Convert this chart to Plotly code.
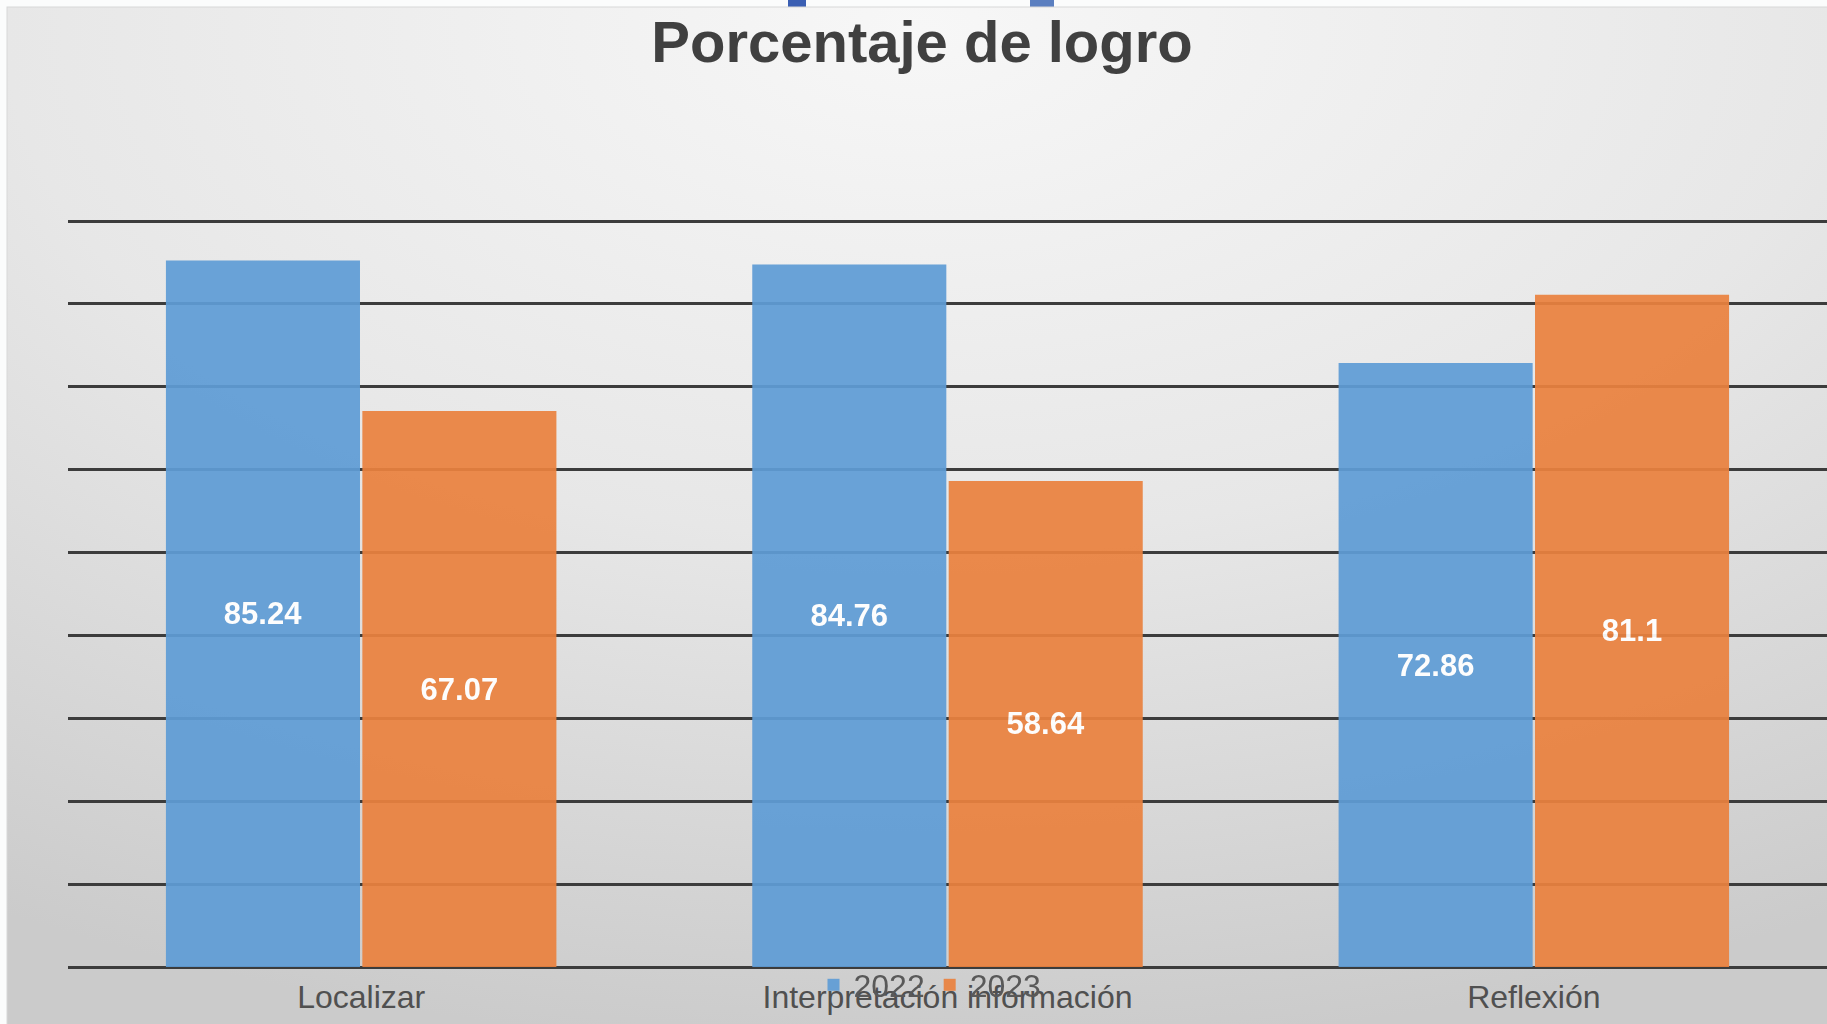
import base64
import plotly.graph_objects as go

categories = ["Localizar", "Interpretación información", "Reflexión"]
series_names = ["2022", "2023"]
values_2022 = [85.24, 84.76, 72.86]
values_2023 = [67.07, 58.64, 81.1]
labels_2022 = ["85.24", "84.76", "72.86"]
labels_2023 = ["67.07", "58.64", "81.1"]
grid_values = [0, 10, 20, 30, 40, 50, 60, 70, 80, 90]
title_text = "Porcentaje de logro"

W, H = 1827, 1024
blue = "#5f9cd5"
orange = "#ea823f"

# pixel geometry of the value axis
y_base_px = 967
px_per_unit = (967 - 221) / 90.0
y_max = 92.0
y_top_px = y_base_px - y_max * px_per_unit

svg = f"""<svg xmlns='http://www.w3.org/2000/svg' width='{W}' height='{H}' viewBox='0 0 {W} {H}' preserveAspectRatio='none'>
<defs>
<radialGradient id='g' gradientUnits='objectBoundingBox' cx='0.5' cy='0.02' r='1.0'>
<stop offset='0' stop-color='#f7f7f7'/>
<stop offset='0.5' stop-color='#e7e7e7'/>
<stop offset='1' stop-color='#cbcbcb'/>
</radialGradient>
</defs>
<rect x='0' y='0' width='{W}' height='{H}' fill='#fbfcfc'/>
<rect x='788' y='0' width='18' height='8' fill='#3b5fb3'/>
<rect x='1030' y='0' width='24' height='8' fill='#5b7fc0'/>
<rect x='7' y='7' width='{W}' height='{H}' fill='url(#g)' stroke='#d8d8d8' stroke-width='1'/>
</svg>"""
src = "data:image/svg+xml;base64," + base64.b64encode(svg.encode()).decode()

label_font = dict(family="Liberation Sans", size=31, color="white", weight="bold")

fig = go.Figure()
fig.add_trace(go.Bar(
    x=categories, y=values_2022, name=series_names[0],
    marker=dict(color=blue, line=dict(width=0)), opacity=0.93,
    text=labels_2022, textposition="inside", insidetextanchor="middle",
    textfont=label_font, textangle=0,
))
fig.add_trace(go.Bar(
    x=categories, y=values_2023, name=series_names[1],
    marker=dict(color=orange, line=dict(width=0)), opacity=0.93,
    text=labels_2023, textposition="inside", insidetextanchor="middle",
    textfont=label_font, textangle=0,
))

fig.update_layout(
    width=W, height=H,
    margin=dict(l=0, r=0, t=0, b=0),
    paper_bgcolor="white",
    plot_bgcolor="rgba(0,0,0,0)",
    images=[dict(source=src, xref="paper", yref="paper", x=0, y=1,
                 sizex=1, sizey=1, sizing="stretch", layer="below",
                 xanchor="left", yanchor="top")],
    title=dict(text=title_text, x=922 / W, xanchor="center",
               y=1 - 42 / H, yanchor="middle",
               font=dict(family="Liberation Sans", size=58, color="#404040", weight="bold")),
    barmode="group", bargap=0.33, bargroupgap=0.012,
    showlegend=True,
    legend=dict(orientation="h", x=930 / W, xanchor="center",
                y=(H - 985) / H, yanchor="middle",
                bgcolor="rgba(0,0,0,0)",
                font=dict(family="Liberation Sans", size=32, color="#595959"),
                traceorder="normal"),
    xaxis=dict(domain=[68 / W, 1.0], showgrid=False, showline=False,
               ticks="", tickfont=dict(family="Liberation Sans", size=32, color="#505050"),
               ticklabelstandoff=8),
    yaxis=dict(domain=[(H - y_base_px) / H, (H - y_top_px) / H], range=[0, y_max],
               tickvals=grid_values,
               showticklabels=False, showgrid=True,
               gridcolor="#3c3c3c", gridwidth=2.5,
               zeroline=True, zerolinecolor="#3c3c3c", zerolinewidth=2.5,
               showline=False),
)

fig.write_html("out.html", config={"displayModeBar": False},
               post_script="document.body.style.margin='0';document.body.style.overflow='hidden';")
